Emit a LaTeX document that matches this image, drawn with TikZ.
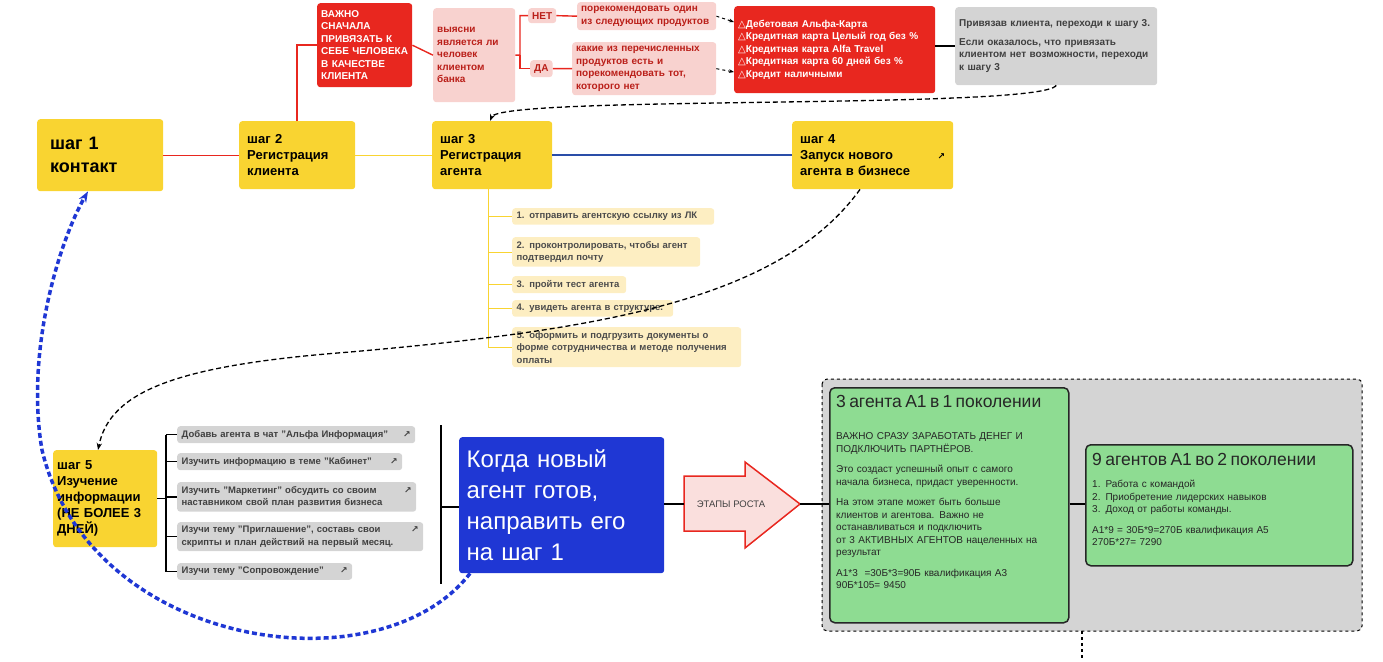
\documentclass[tikz,border=0pt]{standalone}
\usepackage{fontspec}
\setmainfont{Liberation Sans}
\newfontfamily\symfont{DejaVu Sans}
\usepackage{tikz}
\usetikzlibrary{arrows, arrows.meta, positioning}
\definecolor{stepyellow}{HTML}{F9D431}
\definecolor{alfared}{HTML}{E8271F}
\definecolor{pinkish}{HTML}{F8D2CF}
\definecolor{lightgray}{HTML}{D4D4D4}
\definecolor{paleyellow}{HTML}{FDEEC2}
\definecolor{growgreen}{HTML}{8EDC92}
\definecolor{deepblue}{HTML}{1F37D4}
\definecolor{lineblue}{HTML}{2A4DA8}
\tikzstyle{stepbox} = [fill=stepyellow, rounded corners=3pt, align=left, font=\bfseries\fontsize{13}{16}\selectfont, inner sep=8pt, anchor=north west]
\tikzstyle{smallbox} = [rounded corners=3pt, align=left, font=\bfseries\fontsize{10}{12.5}\selectfont, inner sep=4pt, anchor=north west]
\tikzstyle{greenbox} = [anchor=north west, fill=growgreen, draw=black!85, line width=1.5pt, rounded corners=5pt]
\tikzstyle{greentext} = [anchor=north west, align=left, inner sep=0pt, font=\fontsize{10}{12.5}\selectfont, text=black!85]
\newcommand{\linkicon}{{\symfont\fontsize{9}{9}\selectfont\,↗}}
\newcommand{\warn}{{\symfont △}}
\tikzset{x=1pt, y=-1pt, conn/.style={line width=1.4pt}}

\begin{document}
\begin{tikzpicture}
        \useasboundingbox (0,0) rectangle (1383,661);
        % Draw the step boxes
        \node[stepbox, minimum width=126, minimum height=72, text width=100, inner sep=13pt, font=\bfseries\fontsize{18}{23}\selectfont] (s1) at (37,119) {шаг 1\\контакт};
        \node[stepbox, minimum width=116, minimum height=68, text width=100] (s2) at (239,121) {шаг 2\\Регистрация\\клиента};
        \node[stepbox, minimum width=120, minimum height=68, text width=104] (s3) at (432,121) {шаг 3\\Регистрация\\агента};
        \node[stepbox, minimum width=161, minimum height=68, text width=145] (s4) at (792,121) {шаг 4\\Запуск нового\hfill\linkicon\\агента в бизнесе};
        \node[stepbox, minimum width=104, minimum height=97, text width=96, inner sep=4pt] (s5) at (53,450) {шаг 5\\Изучение информации (НЕ БОЛЕЕ 3 ДНЕЙ)};
        \draw[conn, alfared] (s1.east) -- (s2.west);
        \draw[conn, stepyellow] (s2.east) -- (s3.west);
        \draw[conn, lineblue, line width=1.8pt] (s3.east) -- (s4.west);

        % Draw the client branch at the top
        \node[smallbox, fill=alfared, text=white, minimum width=95, minimum height=84, text width=87] (important) at (317,3) {ВАЖНО\\СНАЧАЛА\\ПРИВЯЗАТЬ К\\СЕБЕ ЧЕЛОВЕКА\\В КАЧЕСТВЕ\\КЛИЕНТА};
        \node[smallbox, fill=pinkish, text=alfared!80!black, minimum width=82, minimum height=94, text width=74] (ask) at (433,8) {выясни\\является ли\\человек\\клиентом\\банка};
        \node[smallbox, fill=pinkish, text=alfared!80!black] (no) at (528,8) {НЕТ};
        \node[smallbox, fill=pinkish, text=alfared!80!black] (yes) at (530,60) {ДА};
        \node[smallbox, fill=pinkish, text=alfared!80!black, minimum width=139, text width=131] (noText) at (577,2) {порекомендовать один\\из следующих продуктов};
        \node[smallbox, fill=pinkish, text=alfared!80!black, minimum width=144, text width=136] (yesText) at (572,42) {какие из перечисленных\\продуктов есть и\\порекомендовать тот,\\которого нет};
        \node[smallbox, fill=alfared, text=white, minimum width=201, minimum height=87, text width=193] (products) at (734,6) {\warn Дебетовая Альфа-Карта\\\warn Кредитная карта Целый год без \%\\\warn Кредитная карта Alfa Travel\\\warn Кредитная карта 60 дней без \%\\\warn Кредит наличными};
        \node[smallbox, fill=lightgray, text=black!75, minimum width=202, minimum height=78, text width=194] (after) at (955,7) {Привязав клиента, переходи к шагу 3.\\[6pt]Если оказалось, что привязать\\клиентом нет возможности, переходи\\к шагу 3};
        \draw[conn, alfared] (s2.north -| 297,0) |- (important.west);
        \draw[conn, alfared] (important.east) -- (ask.west);
        \draw[conn, alfared] (ask.east) -- (520,55) |- (no.west);
        \draw[conn, alfared] (520,55) |- (yes.west);
        \draw[conn, alfared] (no.east) -- (noText.west);
        \draw[conn, alfared] (yes.east) -- (yesText.west);
        \draw[dashed, line width=1pt, -{Stealth[length=5pt]}] (noText.east) -- (products.west |- 0,22);
        \draw[dashed, line width=1pt, -{Stealth[length=5pt]}] (yesText.east) -- (products.west |- 0,72);
        \draw[conn] (products.east |- after.west) -- (after.west);
        \draw[line width=1.3pt, dash pattern=on 5pt off 3pt, -{Stealth[length=7pt]}] (after.south) .. controls (1040,110) and (500,95) .. (s3.north -| 490,0);

        % Draw the agent checklist of step 3
        \foreach \name/\y/\w/\txt in {c1/208/202/{1. отправить агентскую ссылку из ЛК},
            c2/237/188/{2. проконтролировать, чтобы агент\\подтвердил почту},
            c3/276/114/{3. пройти тест агента},
            c4/300/161/{4. увидеть агента в структуре.},
            c5/327/229/{5. оформить и подгрузить документы о\\форме сотрудничества и методе получения\\оплаты}}
        {
            \node[smallbox, fill=paleyellow, text=black!70, minimum width=\w, text width=\w-9, font=\bfseries\fontsize{9.5}{12.5}\selectfont] (\name) at (512,\y) {\txt};
            \draw[stepyellow, line width=0.8pt] (488,0 |- \name.west) -- (\name.west);
        }
        \draw[stepyellow, line width=0.8pt] (s3.south -| 488,0) -- (488,0 |- c5.west);
        \draw[line width=1.3pt, dash pattern=on 5pt off 3pt, -{Stealth[length=7pt]}] (s4.south -| 860,0) .. controls (780,300) and (600,330) .. (350,352) .. controls (180,365) and (110,390) .. (s5.north -| 98,0);

        % Draw the study items of step 5
        \foreach \name/\y/\w/\txt in {i1/426/238/{Добавь агента в чат "Альфа Информация"\hfill\linkicon},
            i2/453/225/{Изучить информацию в теме "Кабинет"\hfill\linkicon},
            i3/482/239/{Изучить "Маркетинг" обсудить со своим\hfill\linkicon\\наставником свой план развития бизнеса},
            i4/522/246/{Изучи тему "Приглашение", составь свои\hfill\linkicon\\скрипты и план действий на первый месяц.},
            i5/563/175/{Изучи тему "Сопровождение"\hfill\linkicon}}
        {
            \node[smallbox, fill=lightgray, text=black!75, minimum width=\w, text width=\w-9, font=\bfseries\fontsize{9.5}{12.5}\selectfont] (\name) at (177,\y) {\txt};
            \draw[conn] (166,0 |- \name.west) -- (\name.west);
        }
        \draw[conn] (166,0 |- i1.west) -- (166,0 |- i5.west);
        \draw[conn] (s5.east) -- (166,0 |- s5.east);

        % Draw the hand-over box and the growth arrow
        \node[anchor=north west, fill=deepblue, text=white, rounded corners=3pt, minimum width=205, minimum height=136, text width=190, align=left, font=\fontsize{24}{31}\selectfont, inner sep=7pt] (ready) at (459,437) {Когда новый агент готов, направить его на шаг 1};
        \draw[conn] (441,425) -- (441,584);
        \draw[conn] (441,507) -- (ready.west |- 0,507);
        \draw[alfared, fill=pinkish!70, line width=1.5pt] (684,476) -- (745,476) -- (745,462) -- (800,504) -- (745,548) -- (745,531) -- (684,531) -- cycle;
        \node[font=\fontsize{9.5}{11}\selectfont, text=black!75] (growth) at (731,504) {ЭТАПЫ РОСТА};
        \coordinate (growthTip) at (800,504);
        \draw[conn] (ready.east |- 0,504) -- (684,504);
        \draw[line width=3.5pt, dash pattern=on 5pt off 3pt, deepblue, -{Stealth[length=11pt]}] (ready.south -| 470,0) .. controls (380,690) and (90,650) .. (42,450) .. controls (25,350) and (60,240) .. (s1.south -| 88,0);

        % Draw the growth stages
        \draw[dashed, line width=1pt, fill=lightgray, rounded corners=5pt] (822,379) rectangle (1362,631);
        \node[greenbox, minimum width=239, minimum height=235] (gen1) at (829,387) {};
        \node[greentext, text width=228] at (836,395)
            {{\fontsize{17.5}{20}\selectfont 3 агента А1 в 1 поколении}\\[20pt]
            ВАЖНО СРАЗУ ЗАРАБОТАТЬ ДЕНЕГ И\\ПОДКЛЮЧИТЬ ПАРТНЁРОВ.\\[8pt]
            Это создаст успешный опыт с самого\\начала бизнеса, придаст уверенности.\\[8pt]
            На этом этапе может быть больше\\клиентов и агентова. Важно не\\останавливаться и подключить\\от 3 АКТИВНЫХ АГЕНТОВ нацеленных на\\результат\\[8pt]
            А1*3 \ =30Б*3=90Б квалификация А3\\90Б*105= 9450};
        \node[greenbox, minimum width=267, minimum height=121] (gen2) at (1085,444) {};
        \node[greentext, text width=256] at (1092,453)
            {{\fontsize{17.5}{20}\selectfont 9 агентов А1 во 2 поколении}\\[10pt]
            1. Работа с командой\\2. Приобретение лидерских навыков\\3. Доход от работы команды.\\[8pt]
            А1*9 = 30Б*9=270Б квалификация А5\\270Б*27= 7290};
        \draw[conn] (growthTip) -- (gen1.west |- growthTip);
        \draw[conn] (gen1.east |- 0,504) -- (gen2.west |- 0,504);
        \coordinate (down) at (1082,661);
        \draw[dashed, line width=2.5pt] (1082,631) -- (down);
\end{tikzpicture}
\end{document}
